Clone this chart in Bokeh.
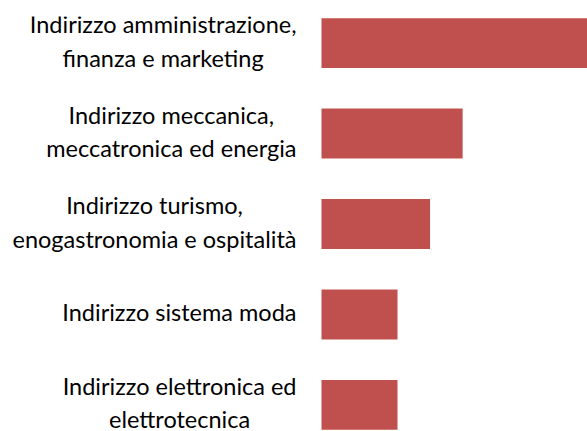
import glob
from bokeh.plotting import figure
from bokeh.models import Range1d, ColumnDataSource
from bokeh.core.properties import value
from bokeh.embed import file_html
from bokeh.resources import INLINE

categories = [
    "Indirizzo amministrazione,\nfinanza e marketing",
    "Indirizzo meccanica,\nmeccatronica ed energia",
    "Indirizzo turismo,\nenogastronomia e ospitalità",
    "Indirizzo sistema moda",
    "Indirizzo elettronica ed\nelettrotecnica",
]
values = [49, 26, 20, 14, 14]

FONT = "Lato"
FONT_PX = 23.5
STANDOFF = 25
W, H = 587, 431
LABEL_AREA = 321   # pixels left of the bars' baseline

# measure label block widths so each block is right-aligned with centred lines
def measure(text):
    try:
        from PIL import ImageFont
        paths = glob.glob("/usr/share/fonts/**/Lato-Regular.ttf", recursive=True)
        f = ImageFont.truetype(paths[0], size=int(round(FONT_PX * 4)))
        return max(f.getlength(line) for line in text.split("\n")) / 4.0
    except Exception:
        return max(len(line) for line in text.split("\n")) * FONT_PX * 0.48

n = len(categories)
pos = list(range(n))
offsets = [-(STANDOFF + measure(c) / 2.0) for c in categories]

src = ColumnDataSource(dict(y=pos, v=values, label=categories, xo=offsets, x0=[0] * n))

vmax = max(values)
p = figure(width=W, height=H, output_backend="svg", toolbar_location=None,
           x_range=Range1d(-vmax * LABEL_AREA / (W - LABEL_AREA), vmax),
           y_range=Range1d(start=n - 1 + 0.293, end=-0.293),
           min_border_left=0, min_border_right=0, min_border_top=16, min_border_bottom=0)
p.hbar(y="y", right="v", left=0, height=0.55, source=src,
       fill_color="#C0504D", line_color=None)
p.text(x="x0", y="y", text="label", x_offset="xo", y_offset=-2, source=src,
       text_font=value(FONT), text_font_size=f"{FONT_PX}px", text_color="black",
       text_align="center", text_baseline="middle", text_line_height=1.18)

p.xaxis.visible = False
p.yaxis.visible = False
p.grid.visible = False
p.outline_line_color = None
p.background_fill_color = "white"
p.border_fill_color = "white"

open("out.html", "w").write(file_html(p, INLINE))
